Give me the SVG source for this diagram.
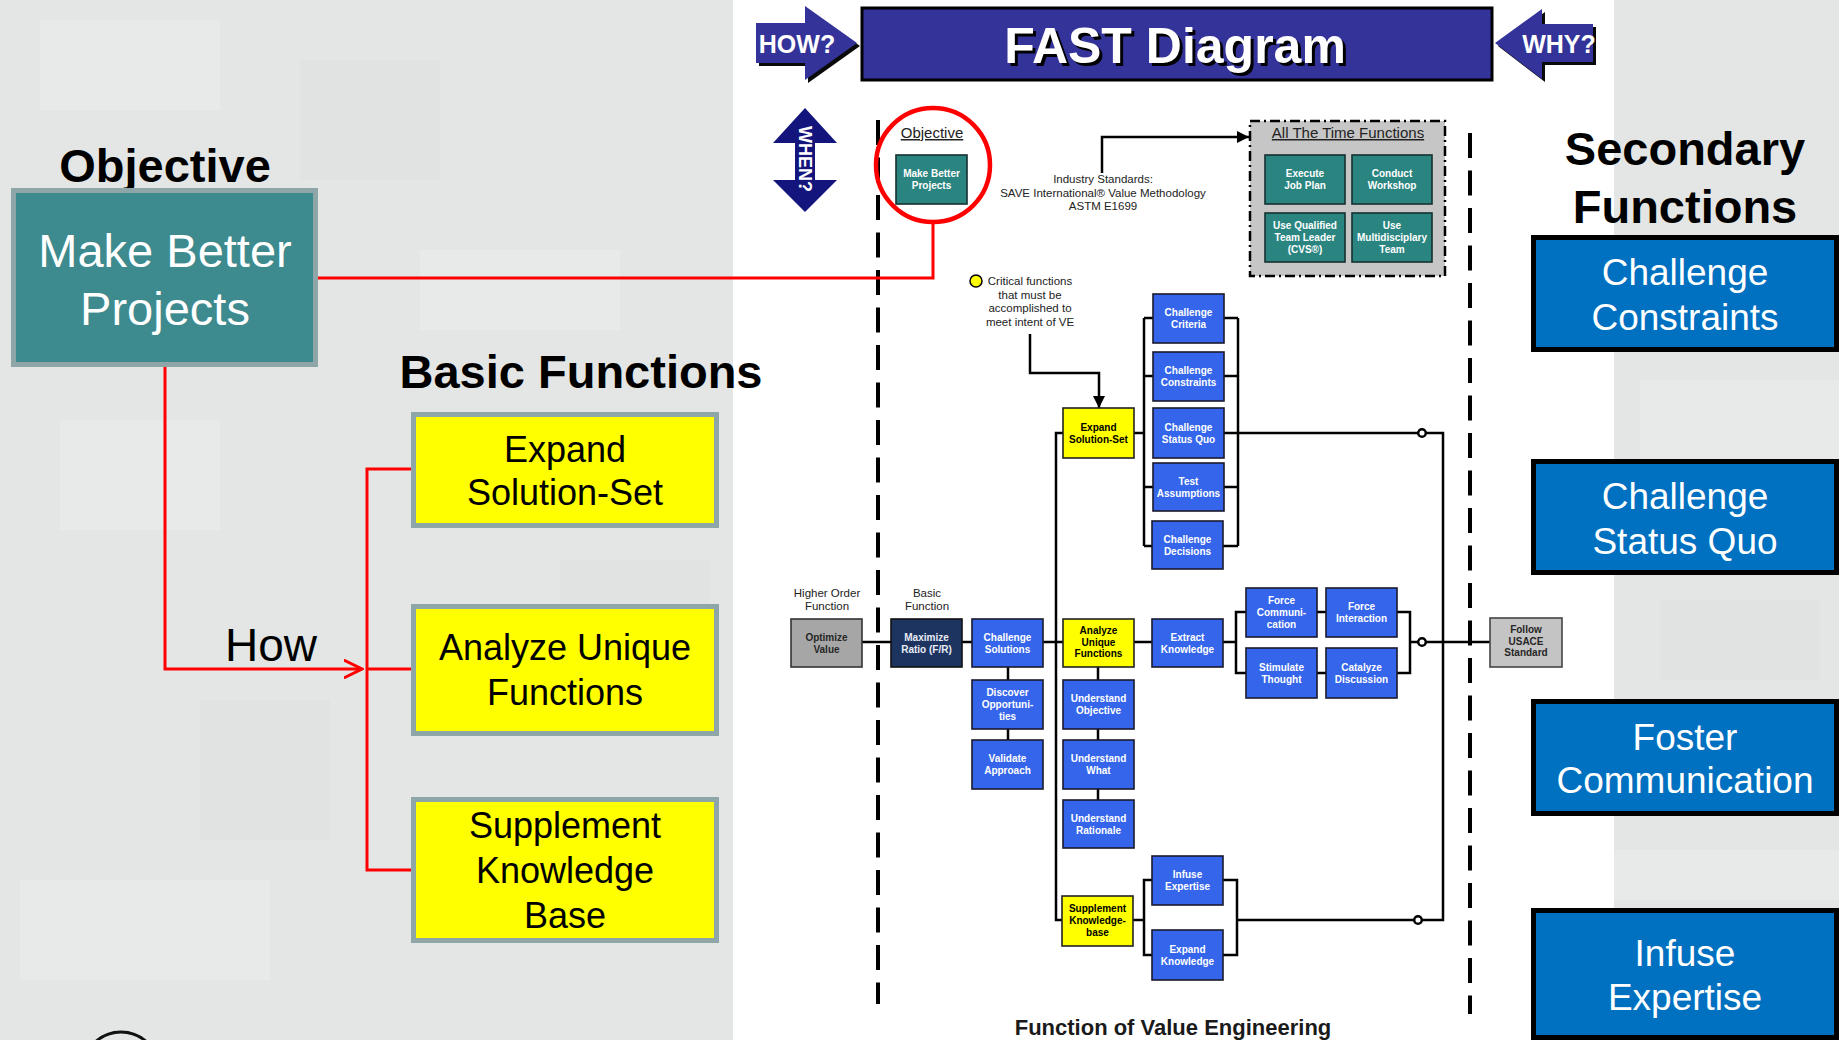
<svg xmlns="http://www.w3.org/2000/svg" width="1839" height="1040" viewBox="0 0 1839 1040">
<defs>
<style>
text{font-family:"Liberation Sans",Arial,Helvetica,sans-serif}
.h1{font-size:47px;font-weight:bold;fill:#000;text-anchor:middle}
.lt{font-size:47px;fill:#fff;text-anchor:middle}
.yt{font-size:36px;fill:#000;text-anchor:middle}
.sf{font-size:37px;fill:#fff;text-anchor:middle}
.st{font-size:10px;font-weight:bold;text-anchor:middle}
.w{fill:#fff}
.k{fill:#000}
.g{fill:#262626}
.nt{font-size:11.5px;fill:#222;text-anchor:middle}
.ul{font-size:15px;fill:#222;text-anchor:middle;text-decoration:underline}
.bb{fill:#3465ea;stroke:#1a1a2e;stroke-width:1.6}
.tb{fill:#2a8580;stroke:#15302f;stroke-width:1.6}
.yb{fill:#ffff00;stroke:#222;stroke-width:1.6}
.gb{fill:#a6a6a6;stroke:#333;stroke-width:1.6}
.nb{fill:#1d3461;stroke:#111;stroke-width:1.6}
.fb{fill:#c4c4c4;stroke:#444;stroke-width:1.6}
.bigy{fill:#ffff00;stroke:#8fa6a8;stroke-width:5}
.sec{fill:#0070c0;stroke:#000;stroke-width:5}
.ln{stroke:#000;stroke-width:2.5;fill:none}
.rd{stroke:#ff0000;stroke-width:3;fill:none}
.dash{stroke:#000;stroke-width:4;stroke-dasharray:25 12.5;fill:none}
.dot{fill:#fff;stroke:#000;stroke-width:2.5}
.ar{fill:#333399}
.sh{fill:#0a0a0a}
.p1{fill:#eef0ef;opacity:0.35}
.p2{fill:#d9dbda;opacity:0.3}
</style>
<marker id="arr" viewBox="0 0 10 10" refX="10" refY="5" markerWidth="12" markerHeight="12" markerUnits="userSpaceOnUse" orient="auto"><path d="M0,0 L10,5 L0,10 z" fill="#000"/></marker>
<marker id="rv" viewBox="0 0 10 10" refX="9.2" refY="5" markerWidth="20" markerHeight="20" markerUnits="userSpaceOnUse" orient="auto"><path d="M0,0.5 L9.2,5 L0,9.5" fill="none" stroke="#ff0000" stroke-width="1.5"/></marker>
</defs>

<g id="background">
<rect x="0" y="0" width="1839" height="1040" fill="#e4e6e5"/>
<rect class="p1" x="40" y="20" width="180" height="90"/>
<rect class="p2" x="300" y="60" width="140" height="120"/>
<rect class="p1" x="420" y="250" width="200" height="80"/>
<rect class="p1" x="60" y="420" width="160" height="110"/>
<rect class="p2" x="200" y="700" width="130" height="140"/>
<rect class="p1" x="20" y="880" width="250" height="100"/>
<rect class="p2" x="560" y="560" width="150" height="160"/>
<rect class="p1" x="1640" y="380" width="199" height="90"/>
<rect class="p2" x="1660" y="600" width="160" height="80"/>
<rect class="p1" x="1614" y="850" width="225" height="50"/>
<rect x="733" y="0" width="881" height="1040" fill="#ffffff"/>
<circle cx="121" cy="1070" r="38" fill="none" stroke="#111" stroke-width="3"/>
</g>

<g id="header">
<g id="how-arrow">
<polygon class="sh" points="759,26 808,26 808,9 860,46 808,83 808,66 759,66"/>
<polygon class="ar" points="756,23 805,23 805,6 857,43 805,80 805,63 756,63"/>
<text x="797" y="53" font-size="25" font-weight="bold" fill="#fff" text-anchor="middle">HOW?</text>
</g>
<g id="title">
<rect x="862" y="8" width="630" height="72" fill="#333399" stroke="#000" stroke-width="3"/>
<text x="1178" y="66" font-size="50" font-weight="bold" fill="#000" text-anchor="middle">FAST Diagram</text>
<text x="1175" y="63" font-size="50" font-weight="bold" fill="#fff" text-anchor="middle">FAST Diagram</text>
</g>
<g id="why-arrow">
<polygon class="sh" points="1498,46 1545,12 1545,27 1596,27 1596,65 1545,65 1545,82"/>
<polygon class="ar" points="1495,43 1542,9 1542,24 1593,24 1593,62 1542,62 1542,79"/>
<text x="1559" y="53" font-size="25" font-weight="bold" fill="#fff" text-anchor="middle">WHY?</text>
</g>
<g id="when-arrow">
<polygon fill="#14147d" points="805,108 837,143 815,143 815,180 837,180 805,212 773,180 795,180 795,143 773,143"/>
<text transform="translate(805,159) rotate(90)" x="0" y="6.5" font-size="18" font-weight="bold" fill="#fff" text-anchor="middle">WHEN?</text>
</g>
</g>

<g id="connectors">
<line class="dash" x1="878" y1="120" x2="878" y2="1004"/>
<line class="dash" x1="1470" y1="133" x2="1470" y2="1014"/>
<polyline class="rd" points="318,278 933,278 933,223"/>
<polyline class="rd" points="165,367 165,669 362,669" marker-end="url(#rv)"/>
<polyline class="rd" points="411,469 367,469 367,870 411,870"/>
<line class="rd" x1="367" y1="669" x2="411" y2="669"/>
<polyline class="ln" points="1102,173 1102,137 1249,137" marker-end="url(#arr)"/>
<polyline class="ln" points="1030,334 1030,373 1099,373 1099,408" marker-end="url(#arr)"/>
<line class="ln" x1="862" y1="642" x2="1236" y2="642"/>
<line class="ln" x1="1410" y1="642" x2="1490" y2="642"/>
<polyline class="ln" points="1063,433 1056,433 1056,920 1062,920"/>
<line class="ln" x1="1134" y1="433" x2="1144" y2="433"/>
<line class="ln" x1="1144" y1="318" x2="1144" y2="546"/>
<line class="ln" x1="1144" y1="318" x2="1153" y2="318"/>
<line class="ln" x1="1144" y1="376" x2="1153" y2="376"/>
<line class="ln" x1="1144" y1="487" x2="1153" y2="487"/>
<line class="ln" x1="1144" y1="546" x2="1152" y2="546"/>
<line class="ln" x1="1238" y1="318" x2="1238" y2="546"/>
<line class="ln" x1="1224" y1="318" x2="1238" y2="318"/>
<line class="ln" x1="1224" y1="376" x2="1238" y2="376"/>
<line class="ln" x1="1224" y1="487" x2="1238" y2="487"/>
<line class="ln" x1="1223" y1="546" x2="1238" y2="546"/>
<polyline class="ln" points="1224,433 1443,433 1443,920 1237,920"/>
<line class="ln" x1="1133" y1="920" x2="1144" y2="920"/>
<polyline class="ln" points="1152,880 1144,880 1144,955 1152,955"/>
<polyline class="ln" points="1223,880 1237,880 1237,955 1223,955"/>
<line class="ln" x1="1008" y1="667" x2="1008" y2="740"/>
<line class="ln" x1="1098" y1="667" x2="1098" y2="800"/>
<polyline class="ln" points="1246,612 1236,612 1236,673 1246,673"/>
<line class="ln" x1="1317" y1="612" x2="1326" y2="612"/>
<line class="ln" x1="1317" y1="673" x2="1326" y2="673"/>
<polyline class="ln" points="1397,612 1410,612 1410,673 1397,673"/>
<circle class="dot" cx="1422" cy="433" r="3.8"/>
<circle class="dot" cx="1422" cy="642" r="3.8"/>
<circle class="dot" cx="1418" cy="920" r="3.8"/>
</g>

<g id="left-panel">
<g id="objective-heading"><text class="h1" x="165" y="182">Objective</text></g>
<g id="make-better-projects">
<rect x="13.5" y="190.5" width="302" height="174" fill="#3d8a8f" stroke="#8fa6a8" stroke-width="5"/>
<text class="lt" x="165" y="267">Make Better</text>
<text class="lt" x="165" y="325">Projects</text>
</g>
<g id="how-label"><text x="271" y="661" font-size="46" fill="#000" text-anchor="middle">How</text></g>
<g id="basic-heading"><text class="h1" x="581" y="388">Basic Functions</text></g>
<g id="expand-solution-set">
<rect class="bigy" x="413.5" y="414.5" width="303" height="111"/>
<text class="yt" x="565" y="462">Expand</text>
<text class="yt" x="565" y="505">Solution-Set</text>
</g>
<g id="analyze-unique-functions">
<rect class="bigy" x="413.5" y="606.5" width="303" height="127"/>
<text class="yt" x="565" y="660">Analyze Unique</text>
<text class="yt" x="565" y="705">Functions</text>
</g>
<g id="supplement-knowledge-base">
<rect class="bigy" x="413.5" y="799.5" width="303" height="141"/>
<text class="yt" x="565" y="838">Supplement</text>
<text class="yt" x="565" y="883">Knowledge</text>
<text class="yt" x="565" y="928">Base</text>
</g>
</g>

<g id="right-panel">
<g id="secondary-heading">
<text class="h1" x="1685" y="165">Secondary</text>
<text class="h1" x="1685" y="223">Functions</text>
</g>
<g id="sec-challenge-constraints">
<rect class="sec" x="1533.5" y="237.5" width="303" height="112"/>
<text class="sf" x="1685" y="285">Challenge</text>
<text class="sf" x="1685" y="330">Constraints</text>
</g>
<g id="sec-challenge-status-quo">
<rect class="sec" x="1533.5" y="461.5" width="303" height="111"/>
<text class="sf" x="1685" y="509">Challenge</text>
<text class="sf" x="1685" y="554">Status Quo</text>
</g>
<g id="sec-foster-communication">
<rect class="sec" x="1533.5" y="701.5" width="303" height="112"/>
<text class="sf" x="1685" y="750">Foster</text>
<text class="sf" x="1685" y="793">Communication</text>
</g>
<g id="sec-infuse-expertise">
<rect class="sec" x="1533.5" y="910.5" width="303" height="127"/>
<text class="sf" x="1685" y="966">Infuse</text>
<text class="sf" x="1685" y="1010">Expertise</text>
</g>
</g>

<g id="fast-diagram">
<g id="objective-circle"><ellipse cx="933" cy="165" rx="57" ry="57" fill="none" stroke="#ff0000" stroke-width="4.5"/></g>
<g id="objective-label"><text class="ul" x="932" y="138">Objective</text></g>
<g id="f-make-better-projects"><rect class="tb" x="896" y="155" width="71" height="49"/><text class="st w" x="931.5" y="177">Make Better<tspan x="931.5" dy="12">Projects</tspan></text></g>
<g id="industry-standards"><text class="nt" x="1103" y="183">Industry Standards:<tspan x="1103" dy="13.5">SAVE International® Value Methodology</tspan><tspan x="1103" dy="13.5">ASTM E1699</tspan></text></g>
<g id="all-the-time-functions">
<rect x="1250" y="121" width="195" height="155" fill="#c6c6c6" stroke="#000" stroke-width="2.5" stroke-dasharray="10 4 2 4"/>
<text class="ul" x="1348" y="138">All The Time Functions</text>
</g>
<g id="f-execute-job-plan"><rect class="tb" x="1265" y="155" width="80" height="49"/><text class="st w" x="1305" y="177">Execute<tspan x="1305" dy="12">Job Plan</tspan></text></g>
<g id="f-conduct-workshop"><rect class="tb" x="1352" y="155" width="80" height="49"/><text class="st w" x="1392" y="177">Conduct<tspan x="1392" dy="12">Workshop</tspan></text></g>
<g id="f-use-qualified"><rect class="tb" x="1265" y="213" width="80" height="49"/><text class="st w" x="1305" y="229">Use Qualified<tspan x="1305" dy="12">Team Leader</tspan><tspan x="1305" dy="12">(CVS®)</tspan></text></g>
<g id="f-use-multidisciplary"><rect class="tb" x="1352" y="213" width="80" height="49"/><text class="st w" x="1392" y="229">Use<tspan x="1392" dy="12">Multidisciplary</tspan><tspan x="1392" dy="12">Team</tspan></text></g>
<g id="critical-note">
<circle cx="976" cy="281" r="6" fill="#ffff00" stroke="#000" stroke-width="1.5"/>
<text class="nt" x="1030" y="285">Critical functions<tspan x="1030" dy="13.5">that must be</tspan><tspan x="1030" dy="13.5">accomplished to</tspan><tspan x="1030" dy="13.5">meet intent of VE</tspan></text>
</g>
<g id="higher-order-label"><text class="nt" x="827" y="597">Higher Order<tspan x="827" dy="13">Function</tspan></text></g>
<g id="basic-function-label"><text class="nt" x="927" y="597">Basic<tspan x="927" dy="13">Function</tspan></text></g>

<g id="f-expand-solution-set"><rect class="yb" x="1063" y="408" width="71" height="50"/><text class="st k" x="1098.5" y="430.5">Expand<tspan x="1098.5" dy="12">Solution-Set</tspan></text></g>
<g id="f-challenge-criteria"><rect class="bb" x="1153" y="294" width="71" height="49"/><text class="st w" x="1188.5" y="316">Challenge<tspan x="1188.5" dy="12">Criteria</tspan></text></g>
<g id="f-challenge-constraints"><rect class="bb" x="1153" y="352" width="71" height="49"/><text class="st w" x="1188.5" y="374">Challenge<tspan x="1188.5" dy="12">Constraints</tspan></text></g>
<g id="f-challenge-status-quo"><rect class="bb" x="1153" y="408" width="71" height="50"/><text class="st w" x="1188.5" y="430.5">Challenge<tspan x="1188.5" dy="12">Status Quo</tspan></text></g>
<g id="f-test-assumptions"><rect class="bb" x="1153" y="463" width="71" height="48"/><text class="st w" x="1188.5" y="484.5">Test<tspan x="1188.5" dy="12">Assumptions</tspan></text></g>
<g id="f-challenge-decisions"><rect class="bb" x="1152" y="521" width="71" height="48"/><text class="st w" x="1187.5" y="542.5">Challenge<tspan x="1187.5" dy="12">Decisions</tspan></text></g>

<g id="f-optimize-value"><rect class="gb" x="791" y="619" width="71" height="48"/><text class="st g" x="826.5" y="640.5">Optimize<tspan x="826.5" dy="12">Value</tspan></text></g>
<g id="f-maximize-ratio"><rect class="nb" x="891" y="619" width="71" height="48"/><text class="st" fill="#e8ecf4" x="926.5" y="640.5">Maximize<tspan x="926.5" dy="12">Ratio (F/R)</tspan></text></g>
<g id="f-challenge-solutions"><rect class="bb" x="972" y="619" width="71" height="48"/><text class="st w" x="1007.5" y="640.5">Challenge<tspan x="1007.5" dy="12">Solutions</tspan></text></g>
<g id="f-discover-opportunities"><rect class="bb" x="972" y="680" width="71" height="49"/><text class="st w" x="1007.5" y="696">Discover<tspan x="1007.5" dy="12">Opportuni-</tspan><tspan x="1007.5" dy="12">ties</tspan></text></g>
<g id="f-validate-approach"><rect class="bb" x="972" y="740" width="71" height="49"/><text class="st w" x="1007.5" y="762">Validate<tspan x="1007.5" dy="12">Approach</tspan></text></g>
<g id="f-analyze-unique-functions"><rect class="yb" x="1063" y="619" width="71" height="48"/><text class="st k" x="1098.5" y="634">Analyze<tspan x="1098.5" dy="11.5">Unique</tspan><tspan x="1098.5" dy="11.5">Functions</tspan></text></g>
<g id="f-understand-objective"><rect class="bb" x="1063" y="680" width="71" height="49"/><text class="st w" x="1098.5" y="702">Understand<tspan x="1098.5" dy="12">Objective</tspan></text></g>
<g id="f-understand-what"><rect class="bb" x="1063" y="740" width="71" height="49"/><text class="st w" x="1098.5" y="762">Understand<tspan x="1098.5" dy="12">What</tspan></text></g>
<g id="f-understand-rationale"><rect class="bb" x="1063" y="800" width="71" height="48"/><text class="st w" x="1098.5" y="821.5">Understand<tspan x="1098.5" dy="12">Rationale</tspan></text></g>
<g id="f-extract-knowledge"><rect class="bb" x="1152" y="619" width="71" height="48"/><text class="st w" x="1187.5" y="640.5">Extract<tspan x="1187.5" dy="12">Knowledge</tspan></text></g>
<g id="f-force-communication"><rect class="bb" x="1246" y="588" width="71" height="49"/><text class="st w" x="1281.5" y="604">Force<tspan x="1281.5" dy="12">Communi-</tspan><tspan x="1281.5" dy="12">cation</tspan></text></g>
<g id="f-force-interaction"><rect class="bb" x="1326" y="588" width="71" height="49"/><text class="st w" x="1361.5" y="610">Force<tspan x="1361.5" dy="12">Interaction</tspan></text></g>
<g id="f-stimulate-thought"><rect class="bb" x="1246" y="648" width="71" height="50"/><text class="st w" x="1281.5" y="670.5">Stimulate<tspan x="1281.5" dy="12">Thought</tspan></text></g>
<g id="f-catalyze-discussion"><rect class="bb" x="1326" y="648" width="71" height="50"/><text class="st w" x="1361.5" y="670.5">Catalyze<tspan x="1361.5" dy="12">Discussion</tspan></text></g>
<g id="f-follow-usace"><rect class="fb" x="1490" y="618" width="72" height="49"/><text class="st g" x="1526" y="633">Follow<tspan x="1526" dy="11.5">USACE</tspan><tspan x="1526" dy="11.5">Standard</tspan></text></g>
<g id="f-supplement-knowledge-base"><rect class="yb" x="1062" y="896" width="71" height="50"/><text class="st k" x="1097.5" y="912">Supplement<tspan x="1097.5" dy="12">Knowledge-</tspan><tspan x="1097.5" dy="12">base</tspan></text></g>
<g id="f-infuse-expertise"><rect class="bb" x="1152" y="856" width="71" height="49"/><text class="st w" x="1187.5" y="878">Infuse<tspan x="1187.5" dy="12">Expertise</tspan></text></g>
<g id="f-expand-knowledge"><rect class="bb" x="1152" y="930" width="71" height="50"/><text class="st w" x="1187.5" y="952.5">Expand<tspan x="1187.5" dy="12">Knowledge</tspan></text></g>
<g id="caption"><text x="1173" y="1035" font-size="22" font-weight="bold" fill="#1a1a1a" text-anchor="middle">Function of Value Engineering</text></g>
</g>
</svg>
